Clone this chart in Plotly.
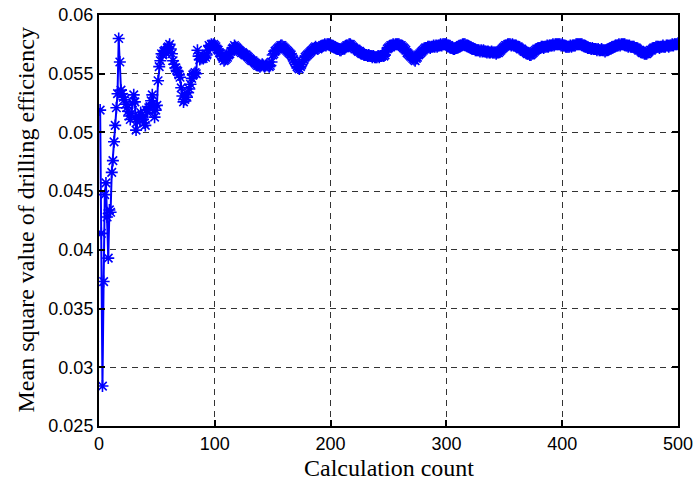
import plotly.graph_objects as go

# Calculation count 1..500 and the mean square value of drilling efficiency
values_1_100 = [
    0.0519, 0.0414, 0.0284, 0.0373, 0.0447, 0.0457, 0.0428, 0.0393, 0.0434, 0.0432,
    0.0466, 0.0476, 0.0492, 0.0506, 0.0521, 0.0533, 0.0580, 0.0560, 0.0536,
    0.0533, 0.0530, 0.0528, 0.0524, 0.0521, 0.0518, 0.0514, 0.0511, 0.0516, 0.0525,
    0.0532, 0.0526, 0.0502, 0.0509, 0.0513, 0.0512, 0.0517, 0.0515, 0.0511, 0.0508,
    0.0506, 0.0519, 0.0517, 0.0521, 0.0522, 0.0527, 0.0532, 0.0525, 0.0513, 0.0519,
    0.0523, 0.0544, 0.0556, 0.0561, 0.0567, 0.0566, 0.0569, 0.0570, 0.0568, 0.0572,
    0.0573, 0.0575, 0.0571, 0.0567, 0.0561, 0.0558, 0.0555, 0.0553, 0.0552, 0.0549,
    0.0547, 0.0538, 0.0531, 0.0526, 0.0528, 0.0530, 0.0530, 0.0534, 0.0537, 0.0541,
    0.0546, 0.0549, 0.0550, 0.0551, 0.0550, 0.0570, 0.0565, 0.0562, 0.0563, 0.0564,
    0.0563, 0.0565, 0.0564, 0.0566, 0.0570, 0.0574, 0.0573, 0.0575, 0.0574, 0.0575,
    0.0574,
]
values_101_200 = [
    0.0573, 0.0571, 0.0570, 0.0568, 0.0567, 0.0565, 0.0563, 0.0561, 0.0562, 0.0563,
    0.0564, 0.0566, 0.0567, 0.0569, 0.0571, 0.0572, 0.0574, 0.0573, 0.0572, 0.0571,
    0.0570, 0.0569, 0.0568, 0.0568, 0.0567, 0.0566, 0.0566, 0.0565, 0.0564, 0.0563,
    0.0562, 0.0561, 0.0561, 0.0560, 0.0559, 0.0558, 0.0557, 0.0557, 0.0556, 0.0557,
    0.0558, 0.0557, 0.0556, 0.0557, 0.0558, 0.0557, 0.0556, 0.0557, 0.0560, 0.0566,
    0.0567, 0.0569, 0.0570, 0.0571, 0.0572, 0.0573, 0.0574, 0.0574, 0.0573, 0.0572,
    0.0571, 0.0570, 0.0569, 0.0568, 0.0567, 0.0566, 0.0564, 0.0562, 0.0560, 0.0558,
    0.0556, 0.0555, 0.0554, 0.0556, 0.0558, 0.0560, 0.0562, 0.0564, 0.0565, 0.0566,
    0.0567, 0.0568, 0.0569, 0.0570, 0.0571, 0.0572, 0.0573, 0.0572, 0.0571, 0.0572,
    0.0573, 0.0573, 0.0574, 0.0574, 0.0575, 0.0574, 0.0575, 0.0575, 0.0575, 0.0574,
]
values_201_300 = [
    0.0574, 0.0573, 0.0573, 0.0572, 0.0572, 0.0571, 0.0571, 0.0570, 0.0570, 0.0571,
    0.0572, 0.0572, 0.0573, 0.0574, 0.0574, 0.0575, 0.0575, 0.0574, 0.0573, 0.0572,
    0.0571, 0.0571, 0.0570, 0.0569, 0.0569, 0.0568, 0.0567, 0.0567, 0.0566, 0.0566,
    0.0566, 0.0565, 0.0566, 0.0565, 0.0565, 0.0564, 0.0565, 0.0564, 0.0564, 0.0564,
    0.0565, 0.0564, 0.0565, 0.0565, 0.0566, 0.0565, 0.0566, 0.0569, 0.0571, 0.0572,
    0.0573, 0.0574, 0.0574, 0.0575, 0.0574, 0.0575, 0.0575, 0.0575, 0.0575, 0.0574,
    0.0574, 0.0573, 0.0572, 0.0571, 0.0570, 0.0568, 0.0567, 0.0566, 0.0565, 0.0564,
    0.0563, 0.0562, 0.0561, 0.0563, 0.0564, 0.0566, 0.0567, 0.0568, 0.0569, 0.0570,
    0.0571, 0.0572, 0.0572, 0.0573, 0.0573, 0.0572, 0.0573, 0.0573, 0.0574, 0.0573,
    0.0574, 0.0573, 0.0574, 0.0574, 0.0575, 0.0574, 0.0575, 0.0575, 0.0575, 0.0575,
]
values_301_400 = [
    0.0574, 0.0574, 0.0573, 0.0572, 0.0572, 0.0571, 0.0571, 0.0572, 0.0572, 0.0573,
    0.0573, 0.0574, 0.0574, 0.0575, 0.0575, 0.0575, 0.0574, 0.0574, 0.0573, 0.0573,
    0.0572, 0.0572, 0.0571, 0.0571, 0.0570, 0.0570, 0.0570, 0.0570, 0.0569, 0.0570,
    0.0569, 0.0570, 0.0569, 0.0569, 0.0568, 0.0569, 0.0568, 0.0568, 0.0569, 0.0568,
    0.0568, 0.0568, 0.0567, 0.0568, 0.0568, 0.0569, 0.0570, 0.0571, 0.0572, 0.0573,
    0.0574, 0.0574, 0.0575, 0.0575, 0.0575, 0.0574, 0.0575, 0.0574, 0.0574, 0.0574,
    0.0573, 0.0573, 0.0572, 0.0571, 0.0571, 0.0570, 0.0569, 0.0569, 0.0568, 0.0567,
    0.0567, 0.0566, 0.0566, 0.0567, 0.0568, 0.0569, 0.0570, 0.0571, 0.0571, 0.0572,
    0.0572, 0.0573, 0.0573, 0.0572, 0.0573, 0.0573, 0.0574, 0.0573, 0.0574, 0.0574,
    0.0574, 0.0575, 0.0574, 0.0575, 0.0575, 0.0575, 0.0575, 0.0575, 0.0574, 0.0575,
]
values_401_500 = [
    0.0574, 0.0574, 0.0573, 0.0573, 0.0573, 0.0573, 0.0574, 0.0573, 0.0574, 0.0574,
    0.0574, 0.0575, 0.0575, 0.0575, 0.0575, 0.0575, 0.0575, 0.0574, 0.0574, 0.0573,
    0.0573, 0.0572, 0.0572, 0.0572, 0.0571, 0.0572, 0.0571, 0.0571, 0.0571, 0.0570,
    0.0571, 0.0570, 0.0570, 0.0571, 0.0570, 0.0570, 0.0569, 0.0570, 0.0570, 0.0571,
    0.0571, 0.0572, 0.0572, 0.0573, 0.0573, 0.0574, 0.0574, 0.0574, 0.0575, 0.0574,
    0.0575, 0.0575, 0.0575, 0.0575, 0.0574, 0.0574, 0.0573, 0.0574, 0.0573, 0.0573,
    0.0573, 0.0573, 0.0572, 0.0572, 0.0571, 0.0570, 0.0570, 0.0569, 0.0568, 0.0568,
    0.0567, 0.0567, 0.0567, 0.0568, 0.0569, 0.0570, 0.0570, 0.0571, 0.0572, 0.0572,
    0.0573, 0.0573, 0.0573, 0.0572, 0.0573, 0.0573, 0.0574, 0.0573, 0.0573, 0.0574,
    0.0574, 0.0573, 0.0574, 0.0574, 0.0575, 0.0574, 0.0575, 0.0575, 0.0575, 0.0576,
]

efficiency = values_1_100 + values_101_200 + values_201_300 + values_301_400 + values_401_500
counts = list(range(1, len(efficiency) + 1))

x_ticks = [0, 100, 200, 300, 400, 500]
y_ticks = [0.025, 0.03, 0.035, 0.04, 0.045, 0.05, 0.055, 0.06]
y_tick_text = ["0.025", "0.03", "0.035", "0.04", "0.045", "0.05", "0.055", "0.06"]

x_title = "Calculation count"
y_title = "Mean square value of drilling efficiency"

fig = go.Figure()
fig.add_trace(go.Scatter(
    x=counts, y=efficiency, mode="lines+markers",
    line=dict(color="#0000FF", width=2),
    marker=dict(symbol="asterisk-open", size=10, color="#0000FF",
                line=dict(color="#0000FF", width=1.6)),
    showlegend=False,
))

tick_font = dict(family="Liberation Sans, Arial, sans-serif", size=18, color="black")
title_font = dict(family="Liberation Serif, Times New Roman, serif", size=24, color="black")

fig.update_layout(
    width=694, height=493,
    margin=dict(l=99, r=16, t=15, b=67),
    paper_bgcolor="white", plot_bgcolor="white",
    xaxis=dict(
        range=[0, 500], tickvals=x_ticks, ticktext=[str(v) for v in x_ticks],
        showgrid=True, gridcolor="#333333", griddash="6px,5px", gridwidth=1,
        showline=True, linecolor="black", linewidth=2, mirror="ticks",
        ticks="inside", ticklen=6, tickcolor="black", tickwidth=1.5,
        tickfont=tick_font, zeroline=False, automargin=False,
    ),
    yaxis=dict(
        range=[0.025, 0.06], tickvals=y_ticks, ticktext=y_tick_text,
        showgrid=True, gridcolor="#333333", griddash="6px,5px", gridwidth=1,
        showline=True, linecolor="black", linewidth=2, mirror="ticks",
        ticks="inside", ticklen=6, tickcolor="black", tickwidth=1.5,
        tickfont=tick_font, zeroline=False, automargin=False,
    ),
    annotations=[
        dict(text=x_title, xref="paper", yref="paper", x=0.5, y=0,
             xanchor="center", yanchor="middle", yshift=-42, showarrow=False,
             font=title_font),
        dict(text=y_title, xref="paper", yref="paper", x=0, y=0.5,
             xanchor="center", yanchor="middle", xshift=-74, textangle=-90,
             showarrow=False, font=title_font),
    ],
)

fig.write_html("out.html")
